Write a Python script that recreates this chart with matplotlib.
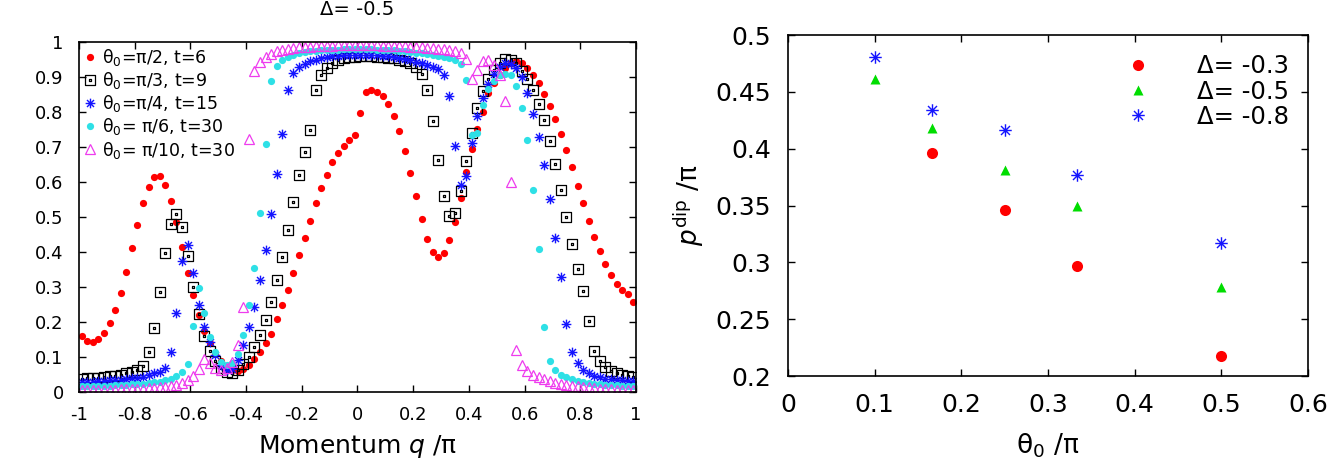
import numpy as np
import matplotlib
matplotlib.use('Agg')
import matplotlib.pyplot as plt
from matplotlib.path import Path

plt.rcParams['font.family'] = ['DejaVu Sans']
plt.rcParams['mathtext.fontset'] = 'dejavusans'

# momentum grid q/pi (100 lattice momenta)
q = np.linspace(-0.99, 0.99, 100)

# left panel: n(q) for the five quenches
n_pi2 = [0.160, 0.146, 0.143, 0.152, 0.169, 0.196, 0.234, 0.284, 0.344, 0.411,
         0.478, 0.540, 0.586, 0.613, 0.616, 0.592, 0.546, 0.487, 0.414, 0.341,
         0.277, 0.220, 0.175, 0.140, 0.110, 0.088, 0.072, 0.062, 0.060, 0.066,
         0.078, 0.095, 0.115, 0.139, 0.167, 0.210, 0.248, 0.291, 0.339, 0.392,
         0.439, 0.489, 0.540, 0.583, 0.621, 0.656, 0.682, 0.703, 0.721, 0.733,
         0.796, 0.857, 0.864, 0.857, 0.845, 0.823, 0.790, 0.745, 0.690, 0.626,
         0.559, 0.494, 0.438, 0.401, 0.387, 0.398, 0.433, 0.487, 0.554, 0.628,
         0.695, 0.752, 0.800, 0.855, 0.884, 0.907, 0.927, 0.941, 0.946, 0.939,
         0.927, 0.907, 0.884, 0.852, 0.817, 0.779, 0.736, 0.691, 0.642, 0.590,
         0.540, 0.490, 0.442, 0.403, 0.365, 0.334, 0.310, 0.291, 0.279, 0.258]

n_pi3 = [0.038, 0.039, 0.040, 0.041, 0.043, 0.045, 0.047, 0.050, 0.053, 0.057,
         0.063, 0.074, 0.113, 0.183, 0.287, 0.397, 0.481, 0.508, 0.471, 0.389,
         0.301, 0.223, 0.160, 0.118, 0.088, 0.068, 0.056, 0.053, 0.062, 0.080,
         0.100, 0.130, 0.162, 0.205, 0.258, 0.320, 0.387, 0.463, 0.543, 0.621,
         0.686, 0.748, 0.862, 0.905, 0.925, 0.940, 0.948, 0.953, 0.956, 0.958,
         0.959, 0.959, 0.959, 0.958, 0.957, 0.955, 0.953, 0.950, 0.946, 0.940,
         0.930, 0.910, 0.862, 0.774, 0.662, 0.561, 0.503, 0.511, 0.573, 0.659,
         0.740, 0.812, 0.860, 0.895, 0.920, 0.940, 0.952, 0.950, 0.940, 0.918,
         0.893, 0.864, 0.824, 0.776, 0.716, 0.652, 0.578, 0.501, 0.423, 0.351,
         0.289, 0.203, 0.117, 0.089, 0.072, 0.060, 0.053, 0.050, 0.047, 0.044]

n_pi4 = [0.028, 0.029, 0.030, 0.031, 0.032, 0.033, 0.034, 0.035, 0.037, 0.039,
         0.041, 0.044, 0.048, 0.053, 0.058, 0.070, 0.113, 0.225, 0.373, 0.420,
         0.341, 0.248, 0.186, 0.143, 0.105, 0.076, 0.062, 0.067, 0.091, 0.134,
         0.186, 0.244, 0.320, 0.406, 0.509, 0.624, 0.738, 0.864, 0.912, 0.928,
         0.938, 0.945, 0.950, 0.954, 0.957, 0.959, 0.961, 0.962, 0.963, 0.964,
         0.964, 0.964, 0.963, 0.962, 0.961, 0.959, 0.957, 0.955, 0.952, 0.948,
         0.944, 0.940, 0.935, 0.928, 0.922, 0.905, 0.847, 0.704, 0.592, 0.618,
         0.712, 0.790, 0.841, 0.880, 0.910, 0.930, 0.940, 0.937, 0.925, 0.900,
         0.855, 0.793, 0.729, 0.650, 0.551, 0.439, 0.328, 0.193, 0.115, 0.083,
         0.062, 0.053, 0.045, 0.042, 0.038, 0.036, 0.034, 0.033, 0.032, 0.031]

n_pi6 = [0.016, 0.016, 0.017, 0.017, 0.018, 0.018, 0.019, 0.020, 0.021, 0.022,
         0.023, 0.024, 0.026, 0.028, 0.030, 0.033, 0.038, 0.045, 0.057, 0.079,
         0.188, 0.298, 0.225, 0.158, 0.115, 0.086, 0.076, 0.082, 0.110, 0.162,
         0.250, 0.354, 0.511, 0.710, 0.888, 0.931, 0.948, 0.958, 0.964, 0.968,
         0.971, 0.973, 0.975, 0.976, 0.977, 0.978, 0.978, 0.979, 0.979, 0.979,
         0.979, 0.979, 0.979, 0.978, 0.978, 0.977, 0.976, 0.975, 0.974, 0.972,
         0.970, 0.968, 0.966, 0.963, 0.960, 0.957, 0.953, 0.948, 0.938, 0.891,
         0.735, 0.740, 0.821, 0.865, 0.890, 0.905, 0.910, 0.905, 0.874, 0.812,
         0.719, 0.578, 0.408, 0.185, 0.089, 0.064, 0.050, 0.042, 0.036, 0.032,
         0.029, 0.026, 0.024, 0.022, 0.021, 0.020, 0.019, 0.018, 0.017, 0.016]

n_pi10 = [0.006, 0.006, 0.006, 0.006, 0.007, 0.007, 0.007, 0.008, 0.008, 0.009,
          0.009, 0.010, 0.011, 0.012, 0.013, 0.015, 0.017, 0.020, 0.025, 0.033,
          0.045, 0.065, 0.095, 0.083, 0.068, 0.062, 0.070, 0.086, 0.134, 0.244,
          0.724, 0.917, 0.943, 0.958, 0.967, 0.973, 0.977, 0.980, 0.983, 0.985,
          0.986, 0.987, 0.988, 0.989, 0.990, 0.990, 0.991, 0.991, 0.991, 0.991,
          0.991, 0.991, 0.991, 0.991, 0.990, 0.990, 0.989, 0.989, 0.988, 0.987,
          0.986, 0.985, 0.984, 0.983, 0.981, 0.979, 0.977, 0.974, 0.968, 0.952,
          0.893, 0.920, 0.946, 0.950, 0.935, 0.907, 0.831, 0.599, 0.121, 0.076,
          0.060, 0.050, 0.042, 0.036, 0.031, 0.027, 0.023, 0.020, 0.018, 0.016,
          0.014, 0.013, 0.011, 0.010, 0.009, 0.008, 0.007, 0.007, 0.006, 0.006]

left_labels = ['θ$_0$=π/2, t=6', 'θ$_0$=π/3, t=9', 'θ$_0$=π/4, t=15',
               'θ$_0$= π/6, t=30', 'θ$_0$= π/10, t=30']

# right panel: dip position vs theta0
theta0 = [0.1, 1/6, 0.25, 1/3, 0.5]
pdip_03 = [np.nan, 0.396, 0.346, 0.297, 0.218]
pdip_05 = [0.461, 0.418, 0.381, 0.350, 0.278]
pdip_08 = [0.481, 0.434, 0.416, 0.377, 0.317]
right_labels = ['Δ= -0.3', 'Δ= -0.5', 'Δ= -0.8']

# gnuplot-like markers
M, L, C = Path.MOVETO, Path.LINETO, Path.CLOSEPOLY
d = 0.12
sq_dot = Path([(-1, -1), (1, -1), (1, 1), (-1, 1), (-1, -1),
               (-d, -d), (d, -d), (d, d), (-d, d), (-d, -d)],
              [M, L, L, L, C, M, L, L, L, C])
star = Path([(-1, 0), (1, 0), (0, -1), (0, 1),
             (-.72, -.72), (.72, .72), (-.72, .72), (.72, -.72)],
            [M, L, M, L, M, L, M, L])

fig = plt.figure(figsize=(13.32, 4.68), dpi=100)
ax1 = fig.add_axes([79/1332, 76/468, 557/1332, 350/468])
ax2 = fig.add_axes([788/1332, 92/468, 520/1332, 341/468])

red, blue, cyan, mag, green = '#ff0000', '#1414ff', '#2ee0e6', '#ee3cee', '#00dd00'

ax1.plot(q, n_pi2, 'o', color=red, mec='none', ms=5.2, label=left_labels[0])
ax1.plot(q, n_pi3, ls='none', marker=sq_dot, ms=7, mfc='none', mec='black', mew=0.9, label=left_labels[1])
ax1.plot(q, n_pi4, ls='none', marker=star, ms=7, mfc='none', mec=blue, mew=1.0, label=left_labels[2])
ax1.plot(q, n_pi6, 'o', color=cyan, mec='none', ms=5.2, label=left_labels[3])
ax1.plot(q, n_pi10, ls='none', marker='^', ms=6.5, mfc='none', mec=mag, mew=0.9, label=left_labels[4])

ax1.set_xlim(-1, 1)
ax1.set_ylim(0, 1)
ax1.set_xticks(np.arange(-1, 1.01, 0.2))
ax1.set_yticks(np.arange(0, 1.01, 0.1))
ax1.set_xticklabels(['-1', '-0.8', '-0.6', '-0.4', '-0.2', '0', '0.2', '0.4', '0.6', '0.8', '1'])
ax1.set_yticklabels(['0', '0.1', '0.2', '0.3', '0.4', '0.5', '0.6', '0.7', '0.8', '0.9', '1'])
ax1.tick_params(direction='in', top=True, right=True, length=5, width=1, labelsize=13)
ax1.tick_params(axis='x', pad=10)
ax1.tick_params(axis='y', pad=11)
ax1.set_xlabel('Momentum $q$ /π', fontsize=18, va='center')
ax1.xaxis.set_label_coords(0.5, -0.157)
ax1.legend(loc='upper left', frameon=False, fontsize=12.5, handlelength=0.7,
           handletextpad=0.35, labelspacing=0.12, borderaxespad=0.15, borderpad=0.15)
# panel title sits right at the top edge of the figure
fig.text(357/1332, 1 - 15/468, 'Δ= -0.5', fontsize=14, ha='center', va='baseline')

ax2.plot(theta0, pdip_03, 'o', color=red, mec='none', ms=8, label=right_labels[0])
ax2.plot(theta0, pdip_05, '^', color=green, mec='none', ms=7, label=right_labels[1])
ax2.plot(theta0, pdip_08, ls='none', marker=star, ms=9, mfc='none', mec=blue, mew=1.0, label=right_labels[2])
ax2.set_xlim(0, 0.6)
ax2.set_ylim(0.2, 0.5)
ax2.set_xticks(np.arange(0, 0.61, 0.1))
ax2.set_yticks(np.arange(0.2, 0.501, 0.05))
ax2.set_xticklabels(['0', '0.1', '0.2', '0.3', '0.4', '0.5', '0.6'])
ax2.set_yticklabels(['0.2', '0.25', '0.3', '0.35', '0.4', '0.45', '0.5'])
ax2.tick_params(direction='in', top=True, right=True, length=5, width=1, labelsize=18)
ax2.tick_params(axis='x', pad=12)
ax2.tick_params(axis='y', pad=12)
ax2.set_xlabel('θ$_0$ /π', fontsize=19, va='center')
ax2.xaxis.set_label_coords(0.5, -0.205)
ax2.set_ylabel('$p^{\\mathrm{dip}}$ /π', fontsize=19, va='center')
ax2.yaxis.set_label_coords(-0.19, 0.5)
ax2.legend(loc='upper right', frameon=False, fontsize=17.5, handlelength=0.8,
           handletextpad=2.0, labelspacing=0.05, borderaxespad=0.6, borderpad=0.2)

for ax in (ax1, ax2):
    for s in ax.spines.values():
        s.set_linewidth(1.2)

fig.savefig('out.png', dpi=100)
